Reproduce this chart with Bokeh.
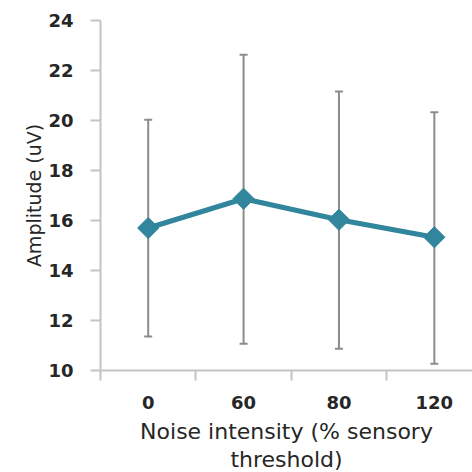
import numpy as np
from bokeh.plotting import figure
from bokeh.models import FixedTicker, ColumnDataSource, Whisker, Title
from bokeh.embed import file_html
from bokeh.resources import INLINE

categories = ["0", "60", "80", "120"]
amplitude = [15.7, 16.87, 16.03, 15.33]
upper = [20.03, 22.63, 21.16, 20.33]
lower = [11.36, 11.07, 10.87, 10.27]
y_ticks = [10, 12, 14, 16, 18, 20, 22, 24]
x_title = ["Noise intensity (% sensory", "threshold)"]
y_title = "Amplitude (uV)"

xs = list(range(len(categories)))
src = ColumnDataSource(dict(x=xs, y=amplitude, upper=upper, lower=lower))

p = figure(width=472, height=472, output_backend="svg", toolbar_location=None,
           x_range=(-0.5, 3.4), y_range=(10, 24),
           min_border_left=100, min_border_right=0, min_border_top=20, min_border_bottom=102)
p.outline_line_color = None
p.grid.grid_line_color = None
p.background_fill_color = "white"
p.border_fill_color = "white"

wh = Whisker(source=src, base="x", upper="upper", lower="lower",
             line_color="#8c8c8c", line_width=2)
wh.upper_head.size = 8
wh.lower_head.size = 8
wh.upper_head.line_color = "#8c8c8c"
wh.lower_head.line_color = "#8c8c8c"
wh.upper_head.line_width = 2
wh.lower_head.line_width = 2
p.add_layout(wh)

p.line("x", "y", source=src, line_color="#31859C", line_width=5)
p.scatter("x", "y", source=src, marker="square", angle=np.pi / 4, size=15,
          fill_color="#31859C", line_color="#31859C")

FONT = "DejaVu Sans"
axis_color = "#c4c4c4"
text_color = "#262626"

xa = p.xaxis[0]
xa.ticker = FixedTicker(ticks=xs, minor_ticks=[-0.5, 0.5, 1.5, 2.5, 3.5])
xa.major_label_overrides = {i: c for i, c in enumerate(categories)}
xa.major_tick_out = 0
xa.major_tick_in = 0
xa.minor_tick_out = 10
xa.minor_tick_in = 0
xa.minor_tick_line_color = axis_color
xa.minor_tick_line_width = 2
xa.axis_line_color = axis_color
xa.axis_line_width = 2
xa.major_label_standoff = 15
xa.major_label_text_font = FONT
xa.major_label_text_font_style = "bold"
xa.major_label_text_font_size = "18px"
xa.major_label_text_color = text_color

for t, so in zip(x_title, [11, -10]):
    p.add_layout(Title(text=t, align="center", standoff=so, offset=4,
                       text_font=FONT, text_font_size="22px",
                       text_font_style="normal", text_color=text_color), "below")

ya = p.yaxis[0]
ya.ticker = FixedTicker(ticks=y_ticks, minor_ticks=[])
ya.major_tick_out = 10
ya.major_tick_in = 0
ya.major_tick_line_color = axis_color
ya.major_tick_line_width = 2
ya.axis_line_color = axis_color
ya.axis_line_width = 2
ya.major_label_standoff = 17
ya.major_label_text_font = FONT
ya.major_label_text_font_style = "bold"
ya.major_label_text_font_size = "18px"
ya.major_label_text_color = text_color
ya.axis_label = y_title
ya.axis_label_text_font = FONT
ya.axis_label_text_font_style = "normal"
ya.axis_label_text_font_size = "19px"
ya.axis_label_text_color = text_color
ya.axis_label_standoff = 0

open("out.html", "w").write(file_html(p, INLINE))
